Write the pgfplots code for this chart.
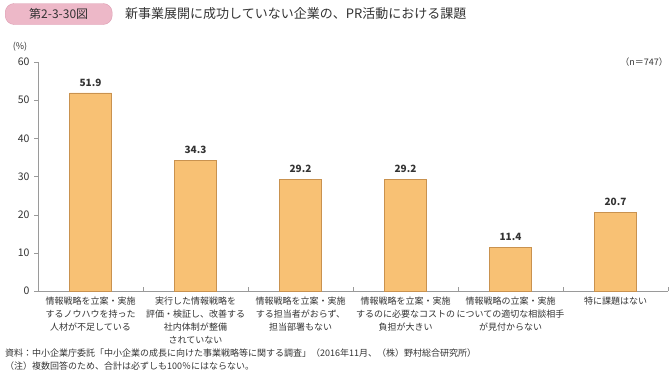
\documentclass[border=0pt]{standalone}
\usepackage{pgfplots}
\pgfplotsset{compat=1.18}
\usepackage{fontspec}
\setmainfont{Noto Sans CJK JP}
\definecolor{barfill}{HTML}{F8C174}
\definecolor{barline}{HTML}{C9924F}
\definecolor{pinkfill}{HTML}{EDB8C8}
\definecolor{pinkline}{HTML}{DC9BB0}
\definecolor{axgray}{HTML}{9A9A9A}
\definecolor{txt}{HTML}{333333}
\begin{document}
\begin{tikzpicture}
\path[use as bounding box] (0pt,0pt) rectangle (669pt,-372pt);
\node[draw=pinkline, fill=pinkfill, rounded corners=9pt, minimum width=107pt, minimum height=21pt, inner sep=0pt, anchor=west, font=\fontsize{12}{14}\selectfont, text=txt] at (5pt,-14pt) {第2-3-30図};
\node[anchor=west, font=\fontsize{13}{15}\selectfont, text=txt, inner sep=0pt] at (125pt,-14pt) {新事業展開に成功していない企業の、PR活動における課題};
\begin{axis}[
  at={(38pt,-291pt)}, anchor=south west,
  scale only axis, width=630pt, height=229pt,
  xmin=-0.5, xmax=5.5, ymin=0, ymax=60,
  axis x line=bottom, axis y line=left,
  axis line style={draw=axgray, line width=0.6pt, -},
  ytick={0,10,...,60},
  xtick={0,...,5},
  minor xtick={0.5,1.5,2.5,3.5,4.5,5.5},
  tick align=outside,
  major tick length=4pt, minor tick length=4pt,
  major x tick style={draw=none},
  minor x tick style={draw=axgray, yshift=4pt},
  y tick style={draw=axgray},
  /pgf/number format/assume math mode=true,
  yticklabel style={font=\fontsize{10.5}{12}\selectfont, text=txt, xshift=-1pt},
  xticklabels={{情報戦略を立案・実施\\するノウハウを持った\\人材が不足している},
    {実行した情報戦略を\\評価・検証し、改善する\\社内体制が整備\\されていない},
    {情報戦略を立案・実施\\する担当者がおらず、\\担当部署もない},
    {情報戦略を立案・実施\\するのに必要なコストの\\負担が大きい},
    {情報戦略の立案・実施\\についての適切な相談相手\\が見付からない},
    {特に課題はない}},
  xticklabel style={font=\fontsize{9}{13.2}\selectfont, text=txt, align=center, anchor=north, yshift=2pt},
  ybar, bar width=42pt,
  nodes near coords,
  nodes near coords style={font=\fontsize{10}{11}\selectfont\bfseries, text=txt, yshift=3pt},
  point meta=explicit symbolic,
  clip=false,
]
\addplot[fill=barfill, draw=barline, line width=0.6pt] coordinates {
  (0,51.9) [51.9] (1,34.3) [34.3] (2,29.2) [29.2] (3,29.2) [29.2] (4,11.4) [11.4] (5,20.7) [20.7]};
\end{axis}
\node[font=\fontsize{9}{11}\selectfont, text=txt] at (20pt,-47pt) {(\%)};
\node[anchor=east, font=\fontsize{9}{11}\selectfont, text=txt, inner sep=0pt] at (668pt,-62pt) {（n＝747）};
\node[anchor=west, font=\fontsize{9}{11}\selectfont, text=txt, inner sep=0pt] at (5pt,-353pt) {資料：中小企業庁委託「中小企業の成長に向けた事業戦略等に関する調査」（2016年11月、（株）野村総合研究所）};
\node[anchor=west, font=\fontsize{9}{11}\selectfont, text=txt, inner sep=0pt] at (5pt,-366pt) {（注）複数回答のため、合計は必ずしも100％にはならない。};
\end{tikzpicture}
\end{document}
